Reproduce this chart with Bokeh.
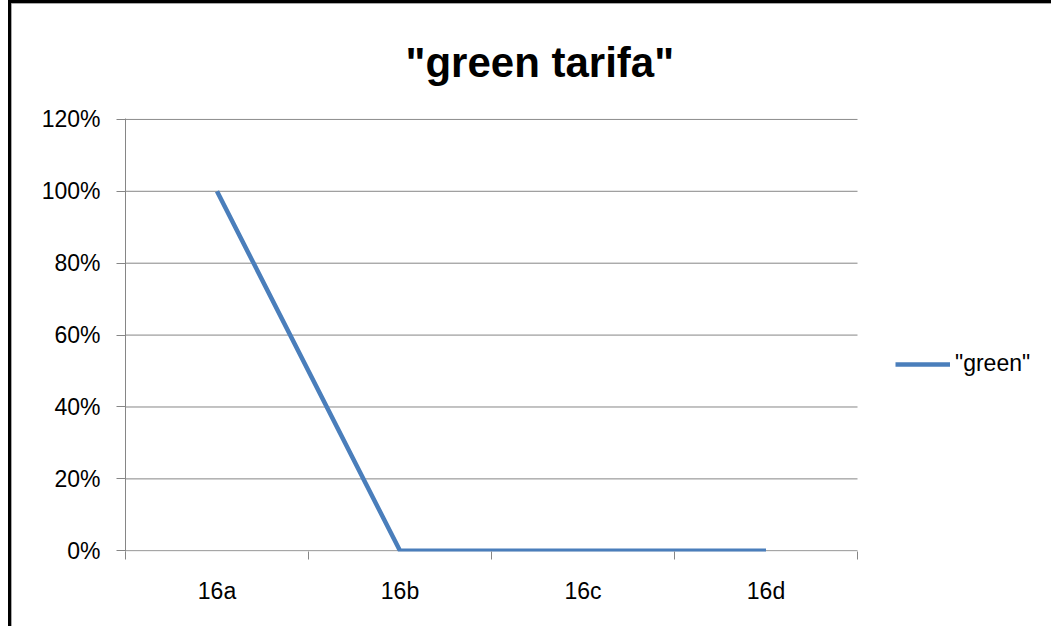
from bokeh.plotting import figure
from bokeh.models import (Range1d, FixedTicker, NumeralTickFormatter, Legend, LegendItem, Title,
                          ColumnDataSource)
from bokeh.embed import file_html
from bokeh.resources import INLINE

categories = ["16a", "16b", "16c", "16d"]
values = [1.0, 0.0, 0.0, 0.0]
series_name = '"green"'
title_text = '"green tarifa"'
y_ticks = [0.0, 0.2, 0.4, 0.6, 0.8, 1.0, 1.2]

n = len(categories)
xpos = [i + 0.5 for i in range(n)]
src = ColumnDataSource(dict(x=xpos, y=values, cat=categories))

FONT = "Liberation Sans"
GRAY = "#868686"

# plot area is 732 px wide for the categories; the frame extends further right to hold the legend
PLOT_W = 732
FRAME_W = 926
FRAME_H = 433

p = figure(frame_width=FRAME_W, frame_height=FRAME_H, output_backend="svg", toolbar_location=None,
           x_range=Range1d(0, n * FRAME_W / PLOT_W), y_range=Range1d(-0.002, 1.2025),
           min_border_left=114, min_border_right=0, min_border_top=115, min_border_bottom=75)
p.styles = {"margin-left": "8px", "margin-top": "0px",
            "border-left": "3px solid black", "border-top": "3px solid black",
            "box-shadow": "inset 2px 2px 0 #8c8c8c"}
p.title = None
p.outline_line_color = None
p.background_fill_color = "white"
p.border_fill_color = "white"

t = Title(text=title_text, align="left", offset=280, text_font=FONT, text_font_size="42px",
          text_font_style="bold", text_color="black", standoff=65)
p.add_layout(t, "above")

# horizontal gridlines limited to the plot area
p.segment(x0=[0] * len(y_ticks), x1=[n] * len(y_ticks), y0=y_ticks, y1=y_ticks,
          line_color=GRAY, line_width=1)

r = p.line("x", "y", source=src, line_color="#4a7ebb", line_width=4.5)

# x axis: labels at category centres, ticks at boundaries
xa = p.xaxis[0]
xa.ticker = FixedTicker(ticks=xpos, minor_ticks=list(range(n + 1)))
xa.major_label_overrides = {x: c for x, c in zip(xpos, categories)}
xa.major_tick_line_color = None
xa.minor_tick_line_color = GRAY
xa.minor_tick_out = 8
xa.minor_tick_in = 0
xa.axis_line_color = None
xa.major_label_text_font = FONT
xa.major_label_text_font_size = "23px"
xa.major_label_text_color = "black"
xa.major_label_standoff = 18

ya = p.yaxis[0]
ya.ticker = FixedTicker(ticks=y_ticks)
ya.formatter = NumeralTickFormatter(format="0%")
ya.minor_tick_line_color = None
ya.major_tick_line_color = GRAY
ya.major_tick_out = 9
ya.major_tick_in = 0
ya.axis_line_color = GRAY
ya.major_label_text_font = FONT
ya.major_label_text_font_size = "23px"
ya.major_label_text_color = "black"
ya.major_label_standoff = 16

p.xgrid.grid_line_color = None
p.ygrid.grid_line_color = None

legend = Legend(items=[LegendItem(label=series_name, renderers=[r])],
                location=(770, 174), padding=0, margin=0, border_line_color=None,
                background_fill_alpha=0, glyph_width=55, glyph_height=20, label_height=20,
                label_standoff=5, label_text_font=FONT, label_text_font_size="23px",
                label_text_color="black")
p.add_layout(legend, "center")

open("out.html", "w").write(file_html(p, INLINE))
